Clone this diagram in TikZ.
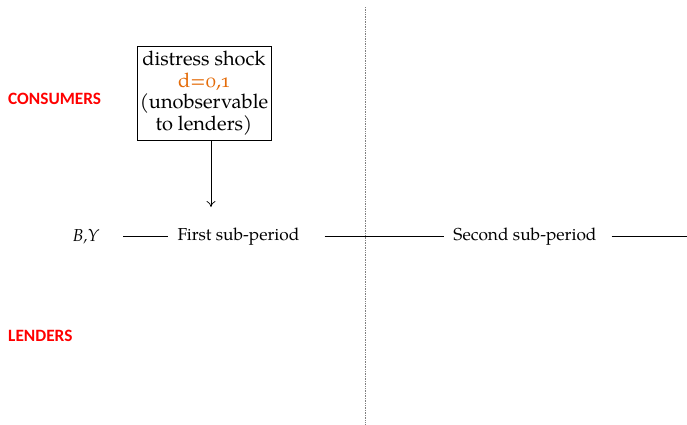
\documentclass[tikz,border=0pt]{standalone}
\usepackage{fontspec}
\newfontfamily\labelfont{Carlito}
\newfontfamily\palfont{texgyrepagella}[Extension=.otf,UprightFont=*-regular,
  ItalicFont=*-italic,BoldFont=*-bold]
\newfontfamily\palosf{texgyrepagella}[Extension=.otf,UprightFont=*-regular,Numbers=OldStyle]
\usetikzlibrary{calc,arrows.meta}
\definecolor{grpred}{RGB}{255,0,0}
\definecolor{shockorange}{RGB}{228,108,10}

\tikzset{
  txt/.style={font=\palfont\fontsize{17.3}{21}\selectfont,inner sep=0pt},
  shockbox/.style={draw,line width=.6pt,inner xsep=3pt,inner ysep=5pt,align=center,
    font=\palfont\fontsize{20}{21.5}\selectfont},
  grp/.style={font=\labelfont\bfseries\fontsize{17.3}{20}\selectfont,text=grpred,anchor=west,inner sep=0pt},
  period/.style={line width=.6pt}
}

\begin{document}
\begin{tikzpicture}[x=1pt,y=-1pt]
  \useasboundingbox (0,0) rectangle (687,424);
  % the two periods are separated by a dotted line
  \draw[densely dotted,gray,line width=.7pt] (365,7)--(365,424);
  \node[grp] (cons) at (8,99) {CONSUMERS};
  \node[grp] (lend) at (8,336) {LENDERS};
  % shock box
  \node[shockbox] (shock) at (204,93)
    {distress shock\\ \textcolor{shockorange}{\palosf d=0,1}\\ (unobservable\\ to lenders)};
  % time line
  \node[txt] (by) at (86,237) {\itshape B,Y};
  \node[txt] (first) at (238.5,237) {First sub-period};
  \node[txt] (second) at (525,237) {Second sub-period};
  \coordinate (end) at (687,236);
  \coordinate (hit) at (211,207);
  \draw[period,shorten <=24pt,shorten >=9pt] (by.east|-end)--(first.west|-end);
  \draw[period,shorten <=25pt,shorten >=9pt] (first.east|-end)--(second.west|-end);
  \draw[period,shorten <=15pt] (second.east|-end)--(end);
  \draw[-{To[length=6pt,width=9pt]},line width=.7pt] (shock.south-|hit)--(hit);
\end{tikzpicture}
\end{document}
